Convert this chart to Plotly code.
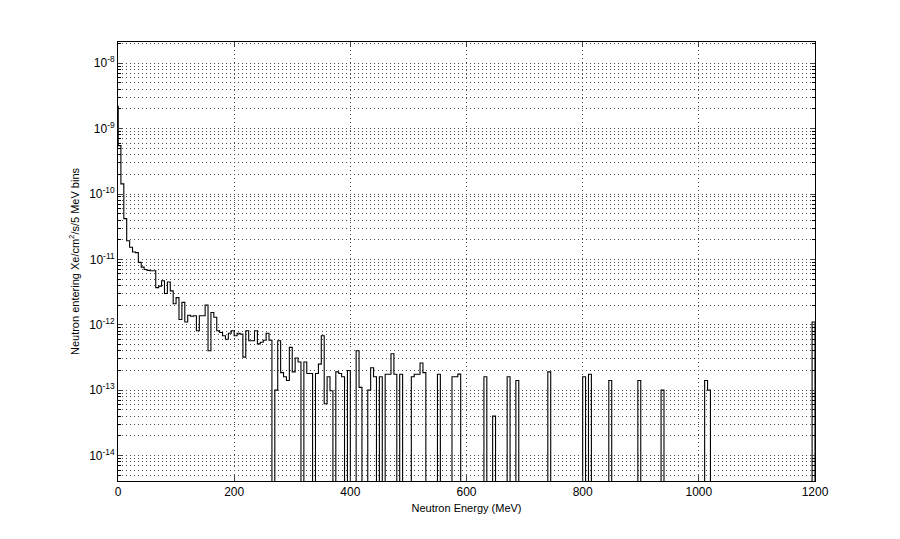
import plotly.graph_objects as go

# 5 MeV bins from 0 to 1200 MeV; a narrow first spike precedes bin 0
bin_width = 5
e_max = 1200
spike_energy = [0.0, 0.4]
spike_value = 2.2e-9

# flux per bin (0 = empty bin)
flux = [
    5.5e-10, 1.43e-10, 4.2e-11, 1.93e-11, 1.53e-11, 1.3e-11, 1.27e-11, 9.0e-12, 7.6e-12, 7.0e-12,
    6.8e-12, 6.7e-12, 6.7e-12, 3.7e-12, 3.9e-12, 4.7e-12, 3.0e-12, 4.5e-12, 3.3e-12, 2.1e-12,
    2.6e-12, 1.2e-12, 2.2e-12, 1.1e-12, 1.4e-12, 1.35e-12, 1.37e-12, 8.1e-13, 1.37e-12, 1.37e-12,
    2.0e-12, 4.0e-13, 1.54e-12, 1.3e-12, 8.1e-13, 7.6e-13, 6.8e-13, 6.0e-13, 7.4e-13, 8.1e-13,
    6.8e-13, 7.4e-13, 7.2e-13, 3.2e-13, 8.1e-13, 5.7e-13, 5.7e-13, 8.1e-13, 5.1e-13, 5.4e-13,
    5.8e-13, 7.4e-13, 5.8e-13, 0, 1.0e-13, 5.7e-13, 1.85e-13, 1.6e-13, 1.4e-13, 4.5e-13,
    1.9e-13, 3.1e-13, 2.7e-13, 0, 2.7e-13, 1.8e-13, 1.8e-13, 0, 1.8e-13, 2.5e-13,
    6.8e-13, 6.2e-14, 1.6e-13, 9.8e-14, 0, 1.9e-13, 1.8e-13, 1.6e-13, 0, 2.0e-13,
    0, 0, 4.0e-13, 1.1e-13, 0, 0, 1.0e-13, 2.2e-13, 1.6e-13, 0,
    1.6e-13, 0, 1.75e-13, 1.75e-13, 3.6e-13, 1.75e-13, 0, 1.75e-13, 0, 0,
    0, 1.6e-13, 1.75e-13, 1.75e-13, 2.6e-13, 1.85e-13, 0, 0, 0, 0,
    1.75e-13, 0, 0, 0, 0, 1.6e-13, 1.6e-13, 1.76e-13, 0, 0,
    0, 0, 0, 0, 0, 0, 1.6e-13, 0, 0, 4.0e-14,
    0, 0, 0, 0, 1.6e-13, 0, 0, 1.4e-13, 0, 0,
    0, 0, 0, 0, 0, 0, 0, 0, 1.9e-13, 0,
    0, 0, 0, 0, 0, 0, 0, 0, 0, 0,
    1.6e-13, 0, 1.75e-13, 0, 0, 0, 0, 0, 0, 1.4e-13,
    0, 0, 0, 0, 0, 0, 0, 0, 0, 1.4e-13,
    0, 0, 0, 0, 0, 0, 0, 1.0e-13, 0, 0,
    0, 0, 0, 0, 0, 0, 0, 0, 0, 0,
    0, 0, 1.4e-13, 1.0e-13, 0, 0, 0, 0, 0, 0,
    0, 0, 0, 0, 0, 0, 0, 0, 0, 0,
    0, 0, 0, 0, 0, 0, 0, 0, 0, 0,
    0, 0, 0, 0, 0, 0, 0, 0, 0, 1.1e-12,
]

x_ticks = [0, 200, 400, 600, 800, 1000, 1200]
y_tick_exp = [-14, -13, -12, -11, -10, -9, -8]

FLOOR = 1e-30  # empty bins drop off the log axis

left_edges = [b * bin_width for b in range(len(flux))]
xs = spike_energy + left_edges[1:] + [e_max, e_max]
ys = [spike_value] + [v if v > 0 else FLOOR for v in flux] + [flux[-1], FLOOR]

fig = go.Figure()
fig.add_trace(go.Scatter(
    x=xs, y=ys, mode="lines", line=dict(shape="hv", color="black", width=1.1),
    hoverinfo="skip", showlegend=False,
))

grid_col = "#4d4d4d"
dash = "1px,3px"
font = dict(family="Liberation Sans, Arial, sans-serif", size=11, color="black")
tfont = dict(family="Liberation Sans, Arial, sans-serif", size=12, color="black")

# the page body adds an 8px offset; margins compensate for it
fig.update_layout(
    width=900, height=539,
    margin=dict(l=110, r=93, t=34, b=66, autoexpand=False),
    paper_bgcolor="white", plot_bgcolor="white",
    font=font,
    xaxis=dict(
        range=[0, 1200], tickvals=x_ticks, ticks="inside", ticklen=5,
        showline=True, linecolor="black", linewidth=1, mirror="ticks",
        showgrid=True, gridcolor=grid_col, griddash=dash, gridwidth=1,
        zeroline=False, tickfont=tfont, automargin=False,
        title=dict(text="Neutron Energy (MeV)", font=font, standoff=5),
    ),
    yaxis=dict(
        type="log", range=[-14.39, -7.675],
        tickvals=[10.0 ** e for e in y_tick_exp],
        ticktext=["10<sup>%d</sup>" % e for e in y_tick_exp],
        ticks="inside", ticklen=5,
        showline=True, linecolor="black", linewidth=1, mirror="ticks",
        showgrid=True, gridcolor=grid_col, griddash=dash, gridwidth=1,
        zeroline=False, tickfont=tfont, automargin=False,
        minor=dict(dtick="D1", ticks="inside", ticklen=3, tickcolor="black",
                   showgrid=True, gridcolor=grid_col, griddash=dash, gridwidth=1),
        title=dict(text="Neutron entering Xe/cm<sup>2</sup>/s/5 MeV bins", font=font, standoff=7),
    ),
)

fig.write_html("out.html")
